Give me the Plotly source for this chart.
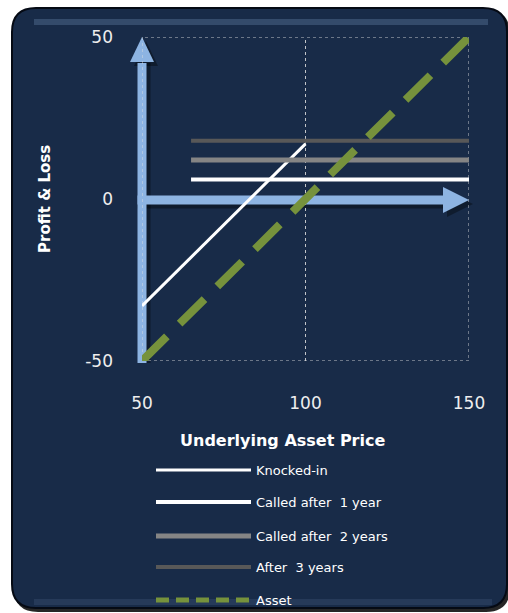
import plotly.graph_objects as go

# ---- data ----
knocked_x = [50, 100]
knocked_y = [-33, 17]
call_x = [65, 150]
called_1y = [6, 6]
called_2y = [12, 12]
after_3y = [18, 18]
asset_x = [50, 150]
asset_y = [-50, 50]
x_ticks = [50, 100, 150]
y_ticks = [-50, 0, 50]
y_tick_text = ["-50", "0", "50"]
X_RANGE = [50, 150]
Y_RANGE = [-50, 50]

W, H = 508, 613
L, R, T, B = 142, 39, 37, 252
PW, PH = W - L - R, H - T - B

def px(p):
    return (p - L) / PW

def py(p):
    return (H - B - p) / PH

def xp(v):  # data x -> paper
    return (v - X_RANGE[0]) / (X_RANGE[1] - X_RANGE[0])

def yp(v):  # data y -> paper
    return (v - Y_RANGE[0]) / (Y_RANGE[1] - Y_RANGE[0])

NAVY = "#182b48"
BLUE = "#8db4e2"
GREEN = "#76923c"
GRID = "rgba(225,225,225,0.85)"

fig = go.Figure()

series = [
    ("Knocked-in", knocked_x, knocked_y, "white", 3, "solid"),
    ("Called after  1 year", call_x, called_1y, "white", 4, "solid"),
    ("Called after  2 years", call_x, called_2y, "#858585", 5, "solid"),
    ("After  3 years", call_x, after_3y, "#585858", 4, "solid"),
]
legend_y = [470, 502, 536, 567, 600]
for i, (name, xs, ys, col, w, dash) in enumerate(series):
    lg = "legend" if i == 0 else f"legend{i+1}"
    fig.add_trace(go.Scatter(x=xs, y=ys, mode="lines", name=name,
                             line=dict(color=col, width=w, dash=dash),
                             legend=lg, cliponaxis=False))

# Asset: plotted series + its legend entry (shorter dashes in the key)
fig.add_trace(go.Scatter(x=asset_x, y=asset_y, mode="lines", name="Asset",
                         line=dict(color=GREEN, width=8, dash="35px,18px"),
                         legendgroup="asset", showlegend=False, cliponaxis=False))
fig.add_trace(go.Scatter(x=[None], y=[None], mode="lines", name="Asset",
                         line=dict(color=GREEN, width=5, dash="13px,7px"),
                         legendgroup="asset", legend="legend5"))

# panel rounded rect
def rrect(x0, y0, x1, y1, r):
    def P(a, b):
        return f"{px(a):.5f},{py(b):.5f}"
    return (f"M{P(x0+r, y0)} L{P(x1-r, y0)} Q{P(x1, y0)} {P(x1, y0+r)} "
            f"L{P(x1, y1-r)} Q{P(x1, y1)} {P(x1-r, y1)} L{P(x0+r, y1)} "
            f"Q{P(x0, y1)} {P(x0, y1-r)} L{P(x0, y0+r)} Q{P(x0, y0)} {P(x0+r, y0)} Z")

shapes = [
    dict(type="path", xref="paper", yref="paper", path=rrect(14, 10, 510, 612, 24),
         fillcolor="rgba(0,0,0,0.85)", line=dict(width=0), layer="below"),
    dict(type="path", xref="paper", yref="paper", path=rrect(12, 8, 507, 608, 24),
         fillcolor=NAVY, line=dict(color="#050a14", width=2), layer="below"),
    dict(type="rect", xref="paper", yref="paper", x0=px(34), x1=px(488), y0=py(19), y1=py(25),
         fillcolor="rgba(120,150,190,0.30)", line=dict(width=0), layer="below"),
    dict(type="rect", xref="paper", yref="paper", x0=px(34), x1=px(492), y0=py(599), y1=py(605),
         fillcolor="rgba(90,115,150,0.22)", line=dict(width=0), layer="below"),
    # dotted plot-area frame and inner gridline
    dict(type="rect", xref="x", yref="y", x0=X_RANGE[0], x1=X_RANGE[1],
         y0=Y_RANGE[0], y1=Y_RANGE[1],
         line=dict(color=GRID, width=1, dash="dot"), layer="below"),
]
for xv in x_ticks[1:-1]:
    shapes.append(dict(type="line", xref="x", yref="y", x0=xv, x1=xv,
                       y0=Y_RANGE[0], y1=Y_RANGE[1],
                       line=dict(color=GRID, width=1, dash="dot"), layer="below"))

# axis arrows (shadows then arrows), paper-referenced so they are not clipped
for dx, dy, col in [(4, -4, "rgba(0,0,0,0.35)"), (0, 0, BLUE)]:
    shapes.append(dict(type="line", xref="paper", yref="paper",
                       xsizemode="pixel", xanchor=xp(50), x0=dx, x1=dx,
                       y0=yp(-50) - 2 / PH, y1=yp(42),
                       line=dict(color=col, width=9), layer="below"))
    shapes.append(dict(type="line", xref="paper", yref="paper",
                       ysizemode="pixel", yanchor=yp(0), y0=dy - 1, y1=dy - 1,
                       x0=xp(50) - 4.5 / PW, x1=xp(143),
                       line=dict(color=col, width=9), layer="below"))
    shapes.append(dict(type="path", xref="paper", yref="paper", xsizemode="pixel",
                       ysizemode="pixel", xanchor=xp(50), yanchor=yp(50),
                       path=f"M{-12+dx},{-25+dy} L{0+dx},{0+dy} L{12+dx},{-25+dy} Z",
                       fillcolor=col, line=dict(width=0), layer="below"))
    shapes.append(dict(type="path", xref="paper", yref="paper", xsizemode="pixel",
                       ysizemode="pixel", xanchor=xp(150), yanchor=yp(0),
                       path=f"M{-26+dx},{13+dy-1} L{0+dx},{0+dy-1} L{-26+dx},{-13+dy-1} Z",
                       fillcolor=col, line=dict(width=0), layer="below"))

annotations = [
    dict(text="<b>Underlying Asset Price</b>", xref="paper", yref="paper", x=px(282), y=py(440),
         showarrow=False, font=dict(size=16, color="white", family="DejaVu Sans"),
         xanchor="center", yanchor="middle"),
    dict(text="<b>Profit & Loss</b>", xref="paper", yref="paper", x=px(45), y=py(199),
         showarrow=False, textangle=-90, font=dict(size=15, color="white", family="DejaVu Sans"),
         xanchor="center", yanchor="middle"),
]

legends = {}
for i, ly in enumerate(legend_y):
    key = "legend" if i == 0 else f"legend{i+1}"
    legends[key] = dict(x=px(151), y=py(ly), xanchor="left", yanchor="middle",
                        bgcolor="rgba(0,0,0,0)", itemwidth=95,
                        font=dict(size=13, color="white", family="DejaVu Sans"))

fig.update_layout(
    width=W, height=H,
    margin=dict(l=L, r=R, t=T, b=B, autoexpand=False),
    paper_bgcolor="white", plot_bgcolor="rgba(0,0,0,0)",
    showlegend=True,
    xaxis=dict(range=X_RANGE, tickvals=x_ticks, showgrid=False, zeroline=False, showline=False,
               ticks="", ticklabelstandoff=30,
               tickfont=dict(size=17, color="#eeeeee", family="DejaVu Sans")),
    yaxis=dict(range=Y_RANGE, tickvals=y_ticks, ticktext=y_tick_text, showgrid=False,
               zeroline=False, showline=False,
               ticks="", ticklabelstandoff=28,
               tickfont=dict(size=17, color="#eeeeee", family="DejaVu Sans")),
    shapes=shapes, annotations=annotations,
    **legends,
)

fig.write_html("out.html")
